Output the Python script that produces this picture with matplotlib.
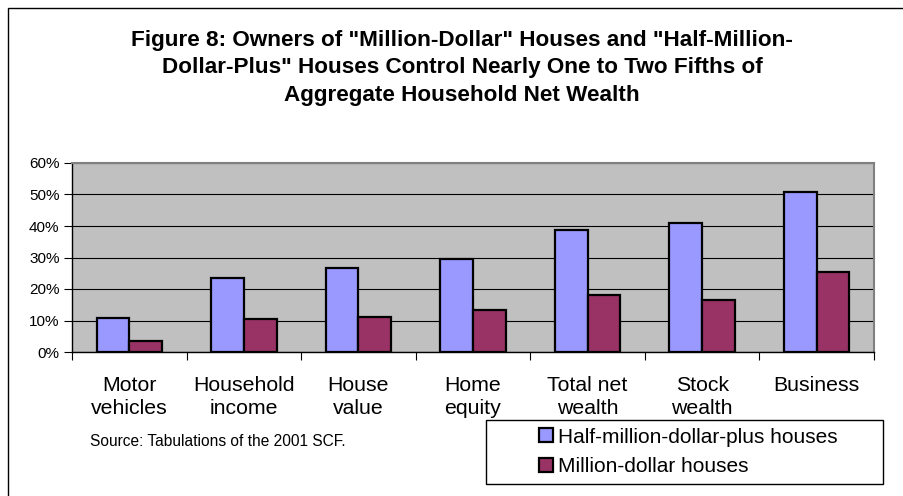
import matplotlib
matplotlib.use("Agg")
import matplotlib.pyplot as plt
import numpy as np
from matplotlib.patches import Rectangle, Patch

categories = ["Motor\nvehicles", "Household\nincome", "House\nvalue", "Home\nequity",
              "Total net\nwealth", "Stock\nwealth", "Business"]
half_million = [10.7, 23.6, 26.6, 29.4, 38.7, 41.0, 50.8]
million = [3.5, 10.5, 11.1, 13.4, 18.0, 16.6, 25.3]
series_names = ["Half-million-dollar-plus houses", "Million-dollar houses"]
yticks = [0, 10, 20, 30, 40, 50, 60]
title = ('Figure 8: Owners of "Million-Dollar" Houses and "Half-Million-\n'
         'Dollar-Plus" Houses Control Nearly One to Two Fifths of\n'
         'Aggregate Household Net Wealth')
source = "Source: Tabulations of the 2001 SCF."

plt.rcParams['font.family'] = ['Liberation Sans', 'DejaVu Sans']

W, H = 904, 496
fig = plt.figure(figsize=(W / 100, H / 100), dpi=100)

def fx(px):
    return px / W

def fy(py):
    return 1 - py / H

# figure border (only top/left visible)
fig.patches.append(Rectangle((fx(7.5), fy(1000)), fx(2000), fy(7.5) - fy(1000),
                             transform=fig.transFigure, fill=False,
                             edgecolor='black', linewidth=1.0, zorder=0))

ax = fig.add_axes([fx(72), fy(352), fx(874) - fx(72), fy(163) - fy(352)])
ax.set_facecolor('#C0C0C0')

x = np.arange(len(categories))
bw = 1 / 3.5
ax.bar(x - bw / 2, half_million, width=bw, color='#9999FF', edgecolor='black',
       linewidth=1.6, zorder=3, label=series_names[0])
ax.bar(x + bw / 2, million, width=bw, color='#993366', edgecolor='black',
       linewidth=1.6, zorder=3, label=series_names[1])

ax.set_xlim(-0.5, len(categories) - 0.5)
ax.set_ylim(0, 60)
ax.set_yticks(yticks)
ax.set_yticklabels([f"{v}%" for v in yticks], fontsize=11)
ax.yaxis.grid(True, color='black', linewidth=0.8, zorder=1)
ax.set_axisbelow(True)

ax.set_xticks(np.arange(len(categories) + 1) - 0.5)
ax.set_xticklabels([])
ax.set_xticks(x, minor=True)
ax.set_xticklabels(categories, minor=True, fontsize=15.3, linespacing=1.3)
ax.tick_params(axis='x', which='minor', length=0, pad=17)
ax.tick_params(axis='x', which='major', length=6, direction='out', width=0.8)
ax.tick_params(axis='y', length=6, direction='out', width=0.8, pad=3)

for s in ['left', 'bottom']:
    ax.spines[s].set_color('black')
    ax.spines[s].set_linewidth(1.0)
for s in ['top', 'right']:
    ax.spines[s].set_color('#808080')
    ax.spines[s].set_linewidth(1.5)

fig.text(fx(462), fy(68), title, ha='center', va='center', fontsize=16.2,
         fontweight='bold', linespacing=1.38)

fig.text(fx(90), fy(441), source, ha='left', va='center', fontsize=11.2)

# legend box
fig.patches.append(Rectangle((fx(486), fy(484)), fx(883) - fx(486), fy(420) - fy(484),
                             transform=fig.transFigure, facecolor='white',
                             edgecolor='black', linewidth=1.0, zorder=5))
handles = [Patch(facecolor='#9999FF', edgecolor='black', linewidth=1.6),
           Patch(facecolor='#993366', edgecolor='black', linewidth=1.6)]
leg = fig.legend(handles, series_names, loc='center left',
                 bbox_to_anchor=(fx(539), fy(452)), frameon=False, fontsize=15,
                 handlelength=0.68, handleheight=0.65, handletextpad=0.25,
                 labelspacing=0.52, borderaxespad=0, borderpad=0)
leg.set_zorder(6)

fig.savefig("out.png", dpi=100)
